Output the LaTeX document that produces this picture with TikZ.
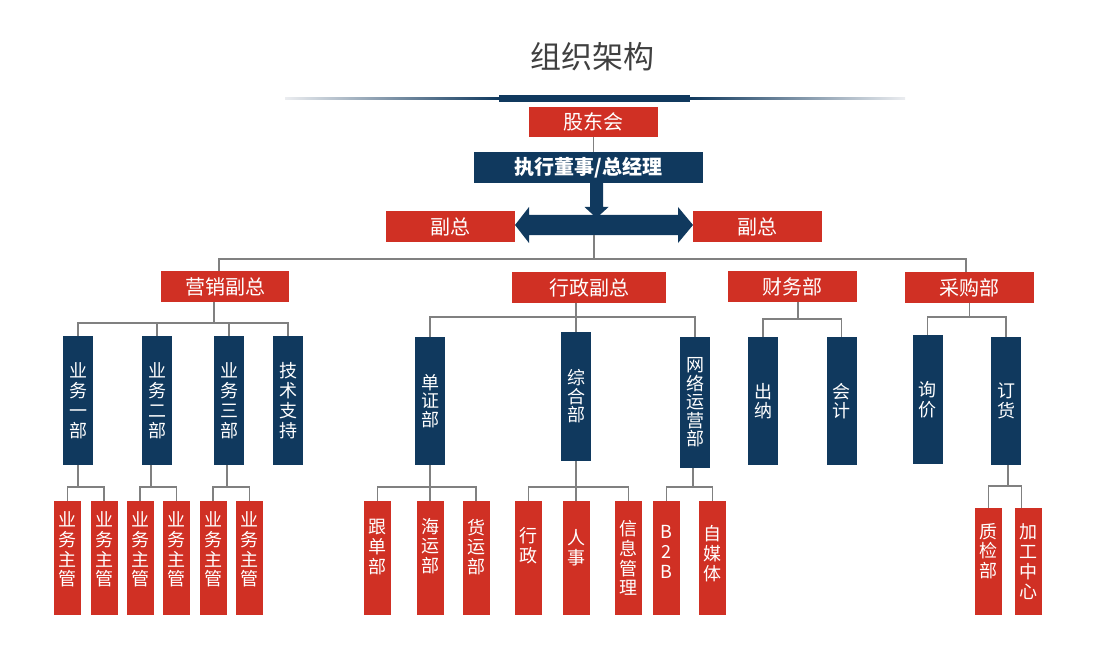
\documentclass[tikz,border=0pt]{standalone}
\usepackage{fontspec}
\setmainfont{Noto Sans CJK SC}
\definecolor{navy}{RGB}{16,57,94}
\definecolor{cred}{RGB}{208,48,36}
\definecolor{lgray}{RGB}{128,128,128}
\definecolor{ttl}{RGB}{64,64,64}
\definecolor{fadeg}{RGB}{235,237,240}
\tikzset{
  hbox/.style={fill=cred, text=white, inner sep=0pt, font=\fontsize{20}{22}\selectfont},
  vnav/.style={fill=navy, text=white, minimum width=30pt, inner sep=0pt, align=center, font=\fontsize{18}{20}\selectfont},
  tight/.style={font=\fontsize{18}{18.5}\selectfont},
  vred/.style={fill=cred, minimum width=27pt, inner sep=0pt},
  vtxt/.style={text=white, align=center, inner sep=0pt, font=\fontsize{18}{19.8}\selectfont},
  conn/.style={draw=lgray, line width=1.2pt},
}
\newcommand\redcol[6]{%
  \node[vred, minimum height=#4] (#1) at (#2,#3) {};
  \node[vtxt] (#1t) at ([yshift=#5]#1.center) {#6};}
\begin{document}
\begin{tikzpicture}[x=1pt,y=-1pt]
\useasboundingbox (0,0) rectangle (1120,666);
% title and rule
\node[font=\fontsize{31}{34}\selectfont, text=ttl, inner sep=0pt] (title) at (592,57) {组织架构};
\shade[left color=fadeg, right color=navy] (285,97.2) rectangle (499,99.4);
\shade[left color=navy, right color=fadeg] (690,97.2) rectangle (905,99.4);
\fill[navy] (499,95) rectangle (690,102);
% top
\node[hbox, minimum width=129pt, minimum height=30pt] (gd) at (593.5,122) {股东会};
\node[hbox, fill=navy, font=\fontsize{20}{22}\selectfont\bfseries, minimum width=229pt, minimum height=31pt] (zj) at (588.5,167.5) {执行董事/总经理};
\draw[conn] (gd.south) -- (gd.south |- zj.north);
\fill[navy] (590,183) -- (603,183) -- (603,207) -- (608.5,207) -- (596.5,218) -- (584.5,207) -- (590,207) -- cycle;
\fill[navy] (515,225) -- (529,207) -- (529,215) -- (678,215) -- (678,207) -- (693,225) -- (678,243) -- (678,235) -- (529,235) -- (529,243) -- cycle;
\node[hbox, minimum width=129pt, minimum height=31pt] (fz1) at (450.5,226.5) {副总};
\node[hbox, minimum width=129pt, minimum height=31pt] (fz2) at (757.5,226.5) {副总};
% level 2
\node[hbox, minimum width=128pt, minimum height=31pt] (yx) at (225,286.5) {营销副总};
\node[hbox, minimum width=154pt, minimum height=31pt] (xz) at (589,287.5) {行政副总};
\node[hbox, minimum width=129pt, minimum height=31pt] (cw) at (792.5,286.5) {财务部};
\node[hbox, minimum width=129pt, minimum height=31pt] (cg) at (969.5,287.5) {采购部};
\coordinate (hub) at (594,235);
\coordinate (bus0) at (594,259);
\draw[conn] (hub) -- (bus0);
\draw[conn] ([xshift=-6pt]yx.north) |- (bus0);
\draw[conn] ([xshift=-3.5pt]cg.north) |- (bus0);
% level 3
\node[vnav, minimum height=129pt] (a1) at (78,400.5) {业\\务\\一\\部};
\node[vnav, minimum height=129pt] (a2) at (157,400.5) {业\\务\\二\\部};
\node[vnav, minimum height=129pt] (a3) at (229,400.5) {业\\务\\三\\部};
\node[vnav, minimum height=129pt] (a4) at (288,400.5) {技\\术\\支\\持};
\node[vnav, tight, minimum height=128pt] (b1) at (430,401) {单\\证\\部};
\node[vnav, tight, minimum height=129pt] (b2) at (576,396.5) {综\\合\\部};
\node[vnav, tight, minimum height=131pt] (b3) at (695,402.5) {网\\络\\运\\营\\部};
\node[vnav, tight, minimum height=128pt] (c1) at (763,401) {出\\纳};
\node[vnav, tight, minimum height=128pt] (c2) at (841.5,401) {会\\计};
\node[vnav, minimum height=129pt] (d1) at (927.5,399.5) {询\\价};
\node[vnav, minimum height=128pt] (d2) at (1006,401) {订\\货};
\coordinate (busA) at (0,323);
\coordinate (busB) at (0,317);
\coordinate (busC) at (0,319);
\coordinate (busD) at (0,317);
\draw[conn] ([xshift=-11pt]yx.south) -- ([xshift=-11pt]yx.south |- busA);
\draw[conn] (a1.north) |- (a4.north |- busA) -- (a4.north);
\draw[conn] (a2.north) -- (a2.north |- busA);
\draw[conn] (a3.north) -- (a3.north |- busA);
\draw[conn] (xz.south -| b2.north) -- (b2.north);
\draw[conn] (b1.north) |- (b3.north |- busB) -- (b3.north);
\draw[conn] ([xshift=5.5pt]cw.south) -- ([xshift=5.5pt]cw.south |- busC);
\draw[conn] (c1.north) |- (c2.north |- busC) -- (c2.north);
\draw[conn] (cg.south) -- (cg.south |- busD);
\draw[conn] (d1.north) |- (d2.north |- busD) -- (d2.north);
% level 4
\redcol{e1}{67.5}{558}{114pt}{8.5pt}{业\\务\\主\\管}
\redcol{e2}{104}{558}{114pt}{8.5pt}{业\\务\\主\\管}
\redcol{e3}{140}{558}{114pt}{8.5pt}{业\\务\\主\\管}
\redcol{e4}{176.5}{558}{114pt}{8.5pt}{业\\务\\主\\管}
\redcol{e5}{213}{558}{114pt}{8.5pt}{业\\务\\主\\管}
\redcol{e6}{249.5}{558}{114pt}{8.5pt}{业\\务\\主\\管}
\redcol{f1}{377.5}{558}{114pt}{11pt}{跟\\单\\部}
\redcol{f2}{430}{558}{114pt}{12pt}{海\\运\\部}
\redcol{f3}{476}{558}{114pt}{11pt}{货\\运\\部}
\redcol{g1}{528.5}{558}{114pt}{12pt}{行\\政}
\redcol{g2}{576}{558}{114pt}{10.5pt}{人\\事}
\redcol{g3}{628.5}{558}{114pt}{0pt}{信\\息\\管\\理}
\redcol{h1}{666.5}{558}{114pt}{6pt}{B\\2\\B}
\redcol{h2}{712.5}{558}{114pt}{4.5pt}{自\\媒\\体}
\redcol{i1}{988.5}{561.5}{107pt}{10.5pt}{质\\检\\部}
\redcol{i2}{1028.5}{561.5}{107pt}{0pt}{加\\工\\中\\心}
\coordinate (busE) at (0,487);
\coordinate (busF) at (0,486);
\draw[conn] (a1.south) -- (a1.south |- busE);
\draw[conn] (e1.north) |- (e2.north |- busE) -- (e2.north);
\draw[conn] ([xshift=-6pt]a2.south) -- ([xshift=-6pt]a2.south |- busE);
\draw[conn] (e3.north) |- (e4.north |- busE) -- (e4.north);
\draw[conn] ([xshift=-2pt]a3.south) -- ([xshift=-2pt]a3.south |- busE);
\draw[conn] (e5.north) |- (e6.north |- busE) -- (e6.north);
\draw[conn] (b1.south) -- (f2.north);
\draw[conn] (f1.north) |- (f3.north |- busE) -- (f3.north);
\draw[conn] (b2.south) -- (g2.north);
\draw[conn] (g1.north) |- (g3.north |- busE) -- (g3.north);
\draw[conn] ([xshift=-2pt]b3.south) -- ([xshift=-2pt]b3.south |- busE);
\draw[conn] (h1.north) |- (h2.north |- busE) -- (h2.north);
\draw[conn] ([xshift=2pt]d2.south) -- ([xshift=2pt]d2.south |- busF);
\draw[conn] (i1.north) |- ([xshift=-7pt]i2.north |- busF) -- ([xshift=-7pt]i2.north);
\end{tikzpicture}
\end{document}
